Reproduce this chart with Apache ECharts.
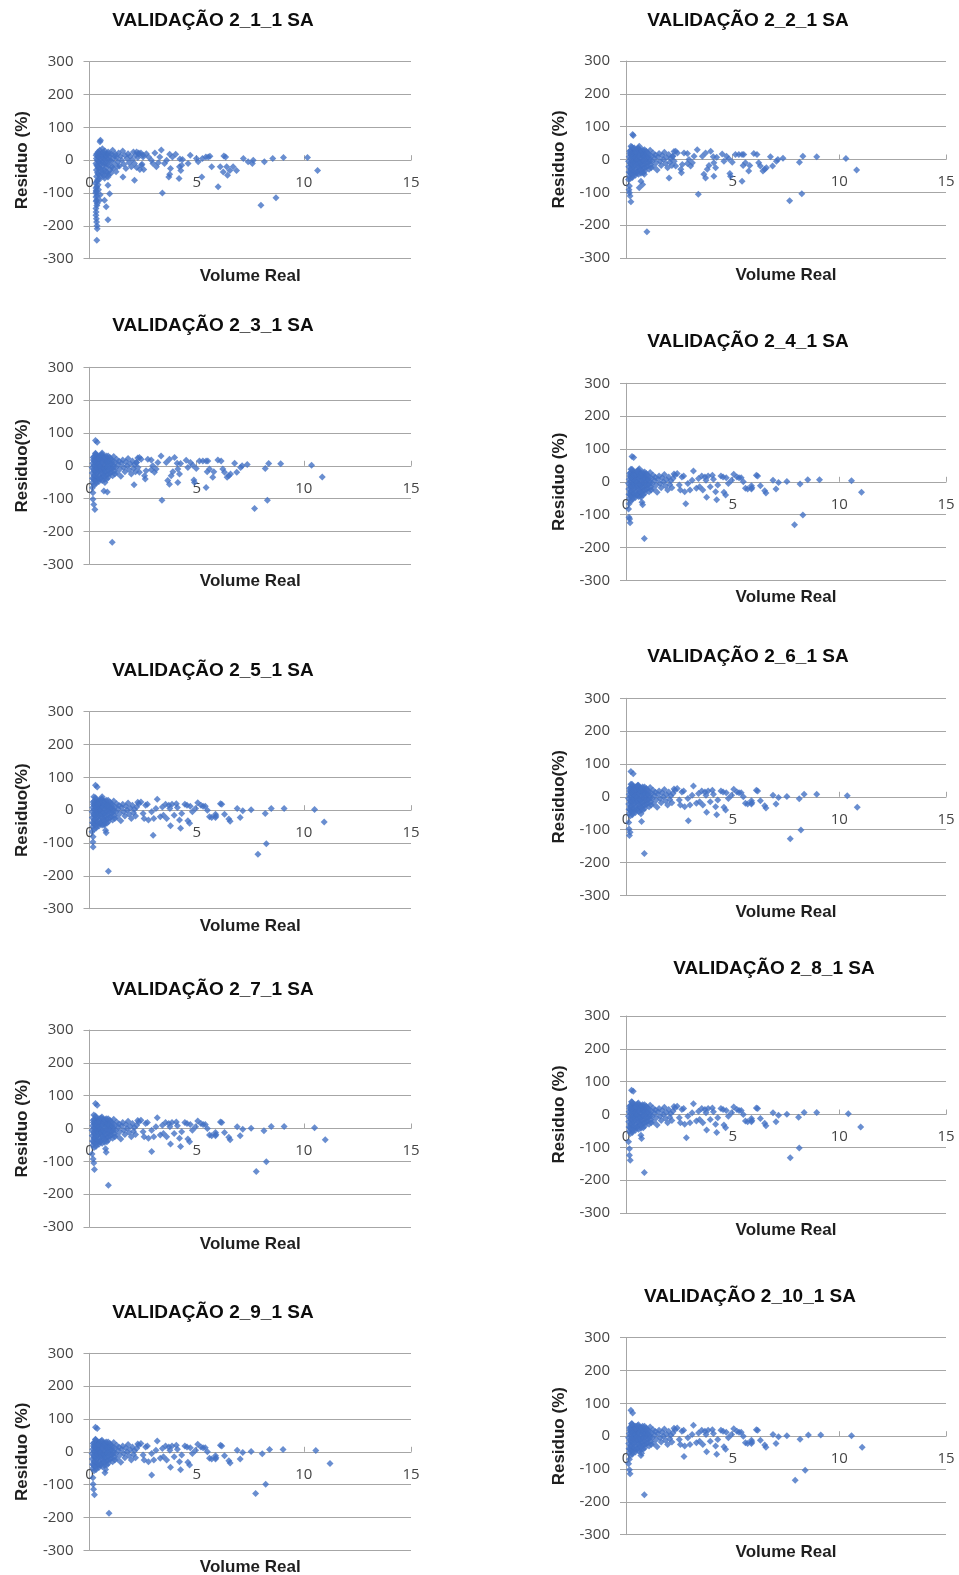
<!DOCTYPE html>
<html><head><meta charset="utf-8">
<script src="https://cdn.jsdelivr.net/npm/echarts@6/dist/echarts.min.js"></script>
<style>html,body{margin:0;padding:0;background:#fff}#c{width:959px;height:1575px}</style>
</head><body><div id="c"></div>
<script>
const panelTitles = ['VALIDAÇÃO 2_1_1 SA','VALIDAÇÃO 2_2_1 SA','VALIDAÇÃO 2_3_1 SA','VALIDAÇÃO 2_4_1 SA','VALIDAÇÃO 2_5_1 SA','VALIDAÇÃO 2_6_1 SA','VALIDAÇÃO 2_7_1 SA','VALIDAÇÃO 2_8_1 SA','VALIDAÇÃO 2_9_1 SA','VALIDAÇÃO 2_10_1 SA'];
const yNames = ['Residuo (%)','Residuo (%)','Residuo(%)','Residuo (%)','Residuo(%)','Residuo(%)','Residuo (%)','Residuo (%)','Residuo (%)','Residuo (%)'];
const xName = 'Volume Real';
const xTickLabels = [0,5,10,15];
const yTickLabels = [-300,-200,-100,0,100,200,300];

// dense cluster, panel 1
const cluster1 = [[0.3,-10],[0.31,15],[0.32,-30],[0.33,-50],[0.34,20],[0.35,-65],[0.36,0],[0.38,-20],[0.4,25],[0.41,-42],[0.43,8],[0.45,-8],[0.47,-58],[0.48,30],[0.5,-25],[0.52,12],[0.54,-40],[0.56,22],[0.58,-5],[0.6,35],[0.62,-18],[0.64,5],[0.66,-48],[0.68,18],[0.7,-30],[0.72,28],[0.74,-8],[0.76,10],[0.78,-22],[0.8,20],[0.83,-38],[0.85,2],[0.87,25],[0.9,-15],[0.93,12],[0.96,-30],[0.99,-2],[1.02,18],[1.05,-20],[1.08,30],[1.12,5],[1.15,-10],[1.2,20],[1.24,-35],[1.28,8],[1.32,-5],[1.36,22],[1.4,-18],[1.45,12],[1.5,0],[1.55,28],[1.6,-12],[1.65,15],[1.7,-25],[1.75,5],[1.8,20],[1.85,-8],[1.9,12],[1.95,-20],[2.0,2],[2.05,25],[2.1,-10],[2.15,15],[2.2,-22],[2.25,8],[2.3,18],[2.35,-28],[2.4,22],[2.45,-12],[2.5,10],
  [0.32,5],[0.34,-15],[0.37,-38],[0.39,12],[0.42,-25],[0.44,22],[0.46,-5],[0.5,-50],[0.53,-12],[0.55,5],[0.57,-30],[0.61,15],[0.63,-40],[0.65,25],[0.67,-10],[0.71,-55],[0.73,2],[0.77,-35],[0.79,15],[0.82,-12],[0.88,-45],[0.91,20],[0.95,0],[1.0,-40],[1.1,-25],[1.18,12],[1.3,-20]];
// dense cluster, panels 2-10
const clusterCore = [[0.12,-5],[0.13,-22],[0.14,-38],[0.15,8],[0.16,-50],[0.18,18],[0.19,-12],[0.2,-30],[0.21,2],[0.22,28],[0.23,-44],[0.24,-18],[0.25,12],[0.27,-6],[0.28,22],[0.29,-35],[0.3,-55],[0.31,5],[0.32,-24],[0.33,32],[0.35,-10],[0.36,15],[0.37,-40],[0.38,26],[0.4,-3],[0.41,-20],[0.42,10],[0.44,-48],[0.45,30],[0.46,-30],[0.48,0],[0.49,18],[0.5,-14],[0.52,24],[0.53,-38],[0.55,8],[0.56,-22],[0.58,35],[0.6,-5],[0.61,16],[0.62,-30],[0.64,28],[0.66,-12],[0.68,4],[0.7,-42],[0.71,20],[0.73,-20],[0.75,12],[0.77,-4],[0.78,30],[0.8,-28],[0.82,8],[0.84,22],[0.86,-15],[0.88,-35],[0.9,14],[0.92,-2],[0.95,25],[0.97,-22],[1.0,6],[1.03,-10],[1.05,18],[1.08,-30],[1.1,2],[1.13,28],[1.16,-15],[1.2,10],[1.23,-5],[1.27,20],[1.3,-22],[1.34,4],[1.38,14],[1.42,-10],[1.46,-32],[1.5,8],[1.55,18],[1.6,-5],[1.65,-18],[1.7,12],[1.75,0],[1.8,22],[1.85,-12],[1.9,6],[1.95,-25],[2.0,15],[2.05,-8],[2.1,3],[2.15,-18],[2.2,10],[2.25,24],
  [0.17,25],[0.19,-40],[0.21,-58],[0.23,15],[0.26,-28],[0.28,38],[0.3,-15],[0.32,8],[0.34,-48],[0.36,-2],[0.39,20],[0.4,-35],[0.43,-12],[0.45,5],[0.47,22],[0.5,-40],[0.52,-2],[0.54,32],[0.57,-12],[0.59,-45],[0.62,10],[0.65,-25],[0.67,20],[0.69,-8],[0.72,-32],[0.74,26],[0.76,-15],[0.79,5],[0.81,-40],[0.83,15],[0.85,-5],[0.87,30],[0.89,-25],[0.93,10],[0.96,-8],[0.99,20],[1.02,-20],[1.07,10],[1.12,-5],[1.18,-25]];

// mid-range scatter
const mid1 = [[2.2,25],[2.3,22],[2.42,-15],[2.5,15],[2.53,-28],[2.65,20],[2.76,10],[2.89,0],[2.96,-10],[3.05,22],[3.12,-20],[3.21,-8],[3.28,10],[3.35,31],[3.5,-10],[3.6,0],[3.7,-51],[3.74,-43],[3.78,-25],[3.74,18],[3.87,10],[4.02,18],[4.18,-56],[4.2,-20],[4.26,-31],[4.3,-15],[4.22,4],[4.34,2],[4.6,-10],[4.7,15],[4.99,5],[5.07,-5],[5.24,-51],[5.27,5],[5.43,10],[5.54,10],[5.62,12],[5.7,-20],[6.1,-20],[6.24,-36],[6.27,13],[6.35,10],[6.4,-20],[6.44,-46],[6.55,-31],[6.7,-20],[6.86,-31],[7.18,5],[7.4,-5],[7.6,-10],[7.64,0]];
const midA = [[2.18,10],[2.26,-5],[2.33,25],[2.33,-20],[2.41,20],[2.57,-30],[2.6,-40],[2.64,-15],[2.72,20],[2.88,18],[2.88,-12],[2.95,0],[3.03,-20],[3.11,-10],[3.19,10],[3.34,30],[3.58,10],[3.65,-45],[3.73,-56],[3.73,20],[3.81,-30],[3.89,-18],[3.97,25],[4.09,8],[4.12,-10],[4.12,-51],[4.2,-25],[4.25,7],[4.51,17],[4.59,-5],[4.71,10],[4.82,2],[4.87,-43],[4.9,-51],[4.98,-8],[5.13,15],[5.29,15],[5.44,15],[5.52,15],[5.44,-66],[5.49,-18],[5.6,-10],[5.75,-35],[5.8,-18],[5.99,18],[6.14,15],[6.22,-10],[6.3,-20],[6.42,-35],[6.5,-30],[6.58,-25],[6.77,8],[6.87,-20],[7.05,-5],[7.12,0],[7.36,4]];
const midB = [[2.3,20],[2.4,25],[2.5,-10],[2.55,-25],[2.62,15],[2.7,18],[2.75,-30],[2.9,-5],[3.0,-25],[3.1,5],[3.16,33],[3.3,-20],[3.4,10],[3.45,-15],[3.55,18],[3.6,-25],[3.7,15],[3.75,5],[3.78,-47],[3.85,18],[3.95,-15],[4.05,20],[4.1,8],[4.2,-30],[4.25,-55],[4.3,-10],[4.45,18],[4.55,15],[4.59,-32],[4.67,-40],[4.7,12],[4.8,-5],[4.95,5],[5.05,23],[5.2,15],[5.3,12],[5.4,12],[5.5,0],[5.6,-20],[5.7,-22],[5.88,-12],[5.88,-22],[5.9,-18],[6.11,20],[6.17,18],[6.3,-12],[6.5,-27],[6.56,-34],[6.89,5],[7.03,-22],[7.15,-2],[7.54,1]];

// panel-specific points (low-volume tail, outliers, far points)
const extra1 = [[0.51,61],[0.49,56],[0.28,-70],[0.34,-81],[0.29,-100],[0.31,-92],[0.3,-112],[0.33,-122],[0.36,-132],[0.3,-147],[0.31,-158],[0.3,-168],[0.32,-178],[0.33,-188],[0.35,-200],[0.36,-209],[0.34,-244],[0.32,-95],[0.35,-108],[0.31,-125],[0.34,-138],[0.3,-85],[0.37,-60],[0.4,-75],[0.42,-90],[0.47,-122],[0.5,-105],[0.7,-122],[0.78,-142],[0.86,-51],[0.86,-76],[0.94,-102],[0.86,-181],[1.56,-51],[2.1,-61],[3.4,-100],[6.0,-81],[8.0,-137],[8.7,-114],[10.64,-31],[10.17,8],[9.05,8],[8.55,5],[8.16,-5]];
const extra2 = [[0.34,73],[0.31,76],[0.23,40],[0.39,35],[0.62,40],[0.12,-61],[0.16,-81],[0.14,-92],[0.16,-101],[0.19,-111],[0.23,-129],[0.62,-86],[0.7,-66],[0.78,-76],[0.86,-45],[0.98,-220],[2.02,-56],[3.39,-106],[7.67,-126],[8.24,-104],[10.31,3],[10.81,-32],[8.94,8],[8.29,10],[8.13,-8]];
const extra3 = [[0.28,77],[0.36,72],[0.28,36],[0.59,39],[0.14,-67],[0.16,-82],[0.16,-102],[0.2,-118],[0.25,-133],[0.67,-77],[0.83,-80],[0.72,-51],[1.06,-233],[2.08,-58],[3.38,-105],[7.7,-130],[8.3,-105],[10.36,2],[10.86,-34],[8.92,6],[8.36,7],[8.2,-8]];
const extra4 = [[0.28,77],[0.36,74],[0.23,38],[0.62,40],[0.15,-67],[0.12,-83],[0.14,-108],[0.17,-113],[0.19,-125],[0.75,-62],[0.78,-70],[0.7,-47],[0.86,-173],[2.8,-67],[7.9,-131],[8.29,-101],[10.57,3],[11.04,-32],[9.07,6],[8.52,6],[8.16,-7]];
const extra5 = [[0.28,76],[0.36,71],[0.2,41],[0.59,41],[0.12,-66],[0.17,-81],[0.16,-97],[0.17,-112],[0.75,-61],[0.78,-69],[0.68,-45],[0.88,-186],[2.97,-76],[7.86,-134],[8.25,-102],[10.5,2],[10.95,-36],[9.08,5],[8.48,5],[8.2,-10]];
const extra6 = [[0.23,77],[0.34,70],[0.23,38],[0.55,35],[0.13,-78],[0.14,-98],[0.19,-108],[0.16,-118],[0.73,-75],[0.7,-52],[0.86,-173],[2.92,-73],[7.7,-128],[8.2,-101],[10.37,3],[10.84,-32],[8.94,8],[8.35,8],[8.12,-6]];
const extra7 = [[0.28,76],[0.36,71],[0.2,41],[0.12,-78],[0.17,-93],[0.2,-105],[0.23,-125],[0.75,-62],[0.78,-72],[0.88,-173],[2.9,-70],[7.78,-131],[8.25,-101],[10.5,2],[11.0,-34],[9.08,6],[8.48,6],[8.14,-7]];
const extra8 = [[0.26,74],[0.34,71],[0.26,39],[0.12,-83],[0.16,-104],[0.16,-124],[0.2,-139],[0.7,-63],[0.73,-73],[0.86,-177],[2.83,-71],[7.7,-132],[8.12,-102],[10.42,2],[11.0,-38],[8.94,6],[8.35,6],[8.09,-8]];
const extra9 = [[0.28,75],[0.36,71],[0.28,37],[0.16,-79],[0.17,-99],[0.19,-114],[0.23,-131],[0.72,-64],[0.75,-54],[0.91,-187],[2.9,-71],[7.75,-127],[8.22,-99],[10.56,4],[11.22,-36],[9.03,7],[8.4,7],[8.06,-6]];
const extra10 = [[0.23,79],[0.31,71],[0.26,38],[0.16,-70],[0.12,-84],[0.16,-102],[0.19,-114],[0.7,-59],[0.73,-52],[0.86,-178],[2.72,-62],[7.93,-134],[8.4,-104],[10.57,1],[11.07,-34],[9.13,4],[8.55,4],[8.16,-9]];

const panelPoints = [
  cluster1.concat(mid1, extra1),
  clusterCore.concat(midA, extra2),
  clusterCore.concat(midA, extra3),
  clusterCore.concat(midB, extra4),
  clusterCore.concat(midB, extra5),
  clusterCore.concat(midB, extra6),
  clusterCore.concat(midB, extra7),
  clusterCore.concat(midB, extra8),
  clusterCore.concat(midB, extra9),
  clusterCore.concat(midB, extra10)
];

// layout
const gridTop = [61.7, 61, 367.3, 383.3, 711.7, 698.3, 1030, 1016, 1353.3, 1337.7];
const gridH = 197;
const colLeft = [89.5, 626];
const colW = [321.5, 320];
const titleCx = [213, 748, 213, 748, 213, 748, 213, 774, 213, 750];
const titleCy = [20.7, 20.7, 325.7, 341.7, 670.7, 656.7, 990, 969, 1312.3, 1297];

const FONT = "'Liberation Sans', Arial, sans-serif";
const TICKFONT = "'Open Sans', 'Liberation Sans', sans-serif";
const LINE = '#a6a6a6';
const grids = [], xAxes = [], yAxes = [], series = [], titles = [];
for (let i = 0; i < 10; i++) {
  const col = i % 2;
  const yMin = yTickLabels[0], yMax = yTickLabels[yTickLabels.length - 1];
  const xMin = xTickLabels[0], xMax = xTickLabels[xTickLabels.length - 1];
  // main plotting grid
  grids.push({ left: colLeft[col], top: gridTop[i], width: colW[col], height: gridH });
  // upper-half grid whose bottom edge is the y = 0 line (carries the x axis drawn through zero)
  grids.push({ left: colLeft[col], top: gridTop[i], width: colW[col], height: gridH * yMax / (yMax - yMin) });
  xAxes.push({ type: 'value', gridIndex: 2 * i, min: xMin, max: xMax, interval: 5, show: false });
  xAxes.push({
    type: 'value', gridIndex: 2 * i + 1, min: xMin, max: xMax, interval: 5, position: 'bottom',
    axisLine: { show: true, onZero: false, lineStyle: { color: LINE, width: 1 } },
    axisTick: { show: true, inside: true, length: 5, lineStyle: { color: LINE } },
    axisLabel: { show: true, margin: 15, fontSize: 15, fontFamily: TICKFONT, color: '#454545', showMinLabel: true, showMaxLabel: true },
    splitLine: { show: false }
  });
  yAxes.push({
    type: 'value', gridIndex: 2 * i, min: yMin, max: yMax, interval: 100,
    name: yNames[i], nameLocation: 'middle', nameGap: 58.5,
    nameTextStyle: { fontSize: 17, fontWeight: 'bold', fontFamily: FONT, color: '#1f1f1f' },
    axisLine: { show: true, onZero: false, lineStyle: { color: LINE, width: 1 } },
    axisTick: { show: true, length: 6, lineStyle: { color: LINE } },
    axisLabel: { margin: 16, fontSize: 15, fontFamily: TICKFONT, color: '#454545' },
    splitLine: { show: true, lineStyle: { color: LINE, width: 1 } }
  });
  yAxes.push({ type: 'value', gridIndex: 2 * i + 1, min: 0, max: yMax, show: false, splitLine: { show: false } });
  series.push({
    type: 'scatter', xAxisIndex: 2 * i, yAxisIndex: 2 * i, symbol: 'diamond', symbolSize: 7,
    itemStyle: { color: '#4472C4' }, data: panelPoints[i], animation: false
  });
  titles.push({
    text: panelTitles[i], left: titleCx[i], top: titleCy[i] - 11, textAlign: 'center', padding: 0,
    textStyle: { fontSize: 19, fontWeight: 'bold', fontFamily: FONT, color: '#0d0d0d', lineHeight: 22 }
  });
  titles.push({
    text: xName, left: colLeft[col] + colW[col] / 2, top: gridTop[i] + gridH + 17.5 - 10, textAlign: 'center', padding: 0,
    textStyle: { fontSize: 17, fontWeight: 'bold', fontFamily: FONT, color: '#1f1f1f', lineHeight: 20 }
  });
}

const chart = echarts.init(document.getElementById('c'), null, { renderer: 'canvas' });
chart.setOption({ animation: false, backgroundColor: '#fff', title: titles, grid: grids, xAxis: xAxes, yAxis: yAxes, series: series });
</script>
</body></html>
